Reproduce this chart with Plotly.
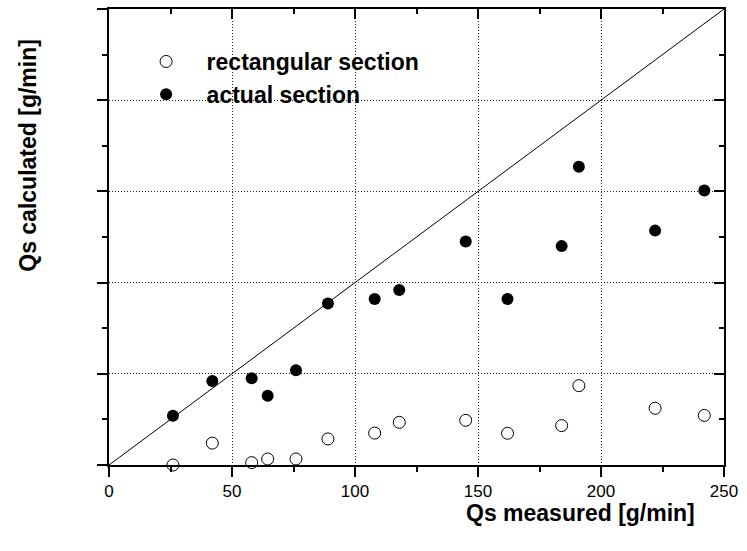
import plotly.graph_objects as go

# Data
qs_measured = [26, 42, 58, 64.5, 76, 89, 108, 118, 145, 162, 184, 191, 222, 242]
rect_calc = [0, 12, 1.3, 3.3, 3.3, 14.3, 17.5, 23.4, 24.5, 17.4, 21.6, 43.5, 31.1, 27.2]
actual_calc = [27, 46, 47.5, 38, 52, 88.5, 91, 96, 122.5, 91, 120, 163.5, 128.5, 150.5]
line_x = [0, 250]
line_y = [0, 250]
x_ticks = [0, 50, 100, 150, 200, 250]

FONT = "Liberation Sans, Arial, sans-serif"
GRIDDASH = "1px,2px"

fig = go.Figure()
fig.add_trace(go.Scatter(x=line_x, y=line_y, mode="lines",
                         line=dict(color="black", width=1), showlegend=False,
                         hoverinfo="skip"))
fig.add_trace(go.Scatter(x=qs_measured, y=rect_calc, mode="markers",
                         name="rectangular section",
                         marker=dict(symbol="circle-open", size=12, color="black",
                                     line=dict(width=1, color="black")),
                         cliponaxis=False))
fig.add_trace(go.Scatter(x=qs_measured, y=actual_calc, mode="markers",
                         name="actual section",
                         marker=dict(symbol="circle", size=12, color="black"),
                         cliponaxis=False))
fig.add_trace(go.Scatter(x=[], y=[], xaxis="x2", yaxis="y2", showlegend=False))

common = dict(range=[0, 250], showline=True, linecolor="black", linewidth=2,
              zeroline=False, tickcolor="black")

fig.update_layout(
    width=747, height=551,
    margin=dict(l=109, r=17, t=9, b=86),
    paper_bgcolor="white", plot_bgcolor="white",
    font=dict(family=FONT, color="black"),
    xaxis=dict(**common, tickvals=x_ticks, ticks="outside", ticklen=10, tickwidth=1.5,
               showgrid=True, gridcolor="#222222", griddash=GRIDDASH, gridwidth=1,
               tickfont=dict(size=17, family=FONT),
               minor=dict(dtick=25, ticks="outside", ticklen=5, tickwidth=1.5,
                          tickcolor="black", showgrid=False)),
    yaxis=dict(**common, dtick=50, ticks="outside", ticklen=10, tickwidth=1.5,
               showticklabels=False,
               showgrid=True, gridcolor="#222222", griddash=GRIDDASH, gridwidth=1,
               minor=dict(dtick=25, ticks="outside", ticklen=5, tickwidth=1.5,
                          tickcolor="black", showgrid=False)),
    xaxis2=dict(**common, overlaying="x", side="top", anchor="y2", dtick=50,
                ticks="inside", ticklen=10, tickwidth=1.5, showticklabels=False,
                showgrid=False,
                minor=dict(dtick=25, ticks="inside", ticklen=5, tickwidth=1.5,
                           tickcolor="black")),
    yaxis2=dict(**common, overlaying="y", side="right", anchor="x2", dtick=50,
                ticks="inside", ticklen=10, tickwidth=1.5, showticklabels=False,
                showgrid=False,
                minor=dict(dtick=25, ticks="inside", ticklen=5, tickwidth=1.5,
                           tickcolor="black")),
    legend=dict(x=0.027, y=0.932, xanchor="left", yanchor="top",
                bgcolor="rgba(0,0,0,0)", borderwidth=0, itemwidth=71,
                font=dict(size=23, family=FONT, weight="bold"),
                tracegroupgap=0),
    showlegend=True,
    shapes=[dict(type="rect", xref="paper", yref="paper",
                 x0=0.045, x1=0.56, y0=0.753, y1=0.943,
                 fillcolor="white", line=dict(width=0), layer="between")],
    annotations=[
        dict(text="<b>Qs measured [g/min]</b>", xref="paper", yref="paper",
             x=0.7665, y=-0.105, xanchor="center", yanchor="middle",
             showarrow=False, font=dict(size=23, family=FONT)),
        dict(text="<b>Qs calculated [g/min]</b>", xref="paper", yref="paper",
             x=-0.132, y=0.68, xanchor="center", yanchor="middle", textangle=-90,
             showarrow=False, font=dict(size=23, family=FONT)),
    ],
)

fig.write_html("out.html")
